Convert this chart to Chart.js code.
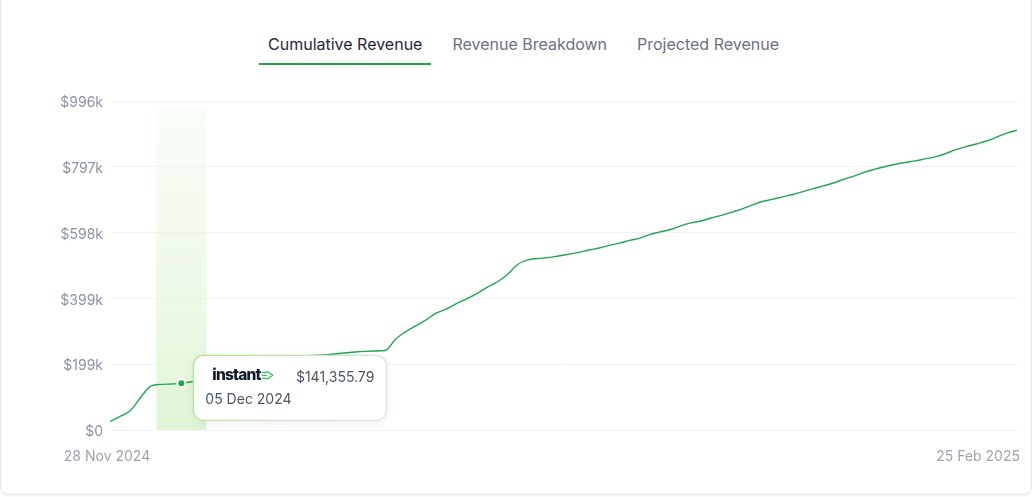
<!DOCTYPE html>
<html lang="en">
<head>
<meta charset="UTF-8" />
<title>Cumulative Revenue</title>
<style>
  html, body { margin: 0; padding: 0; background: #fff; font-family: Inter, "Noto Sans", sans-serif; }
  body { width: 1032px; height: 497px; overflow: hidden; position: relative; }
  .card { position: absolute; left: 0; top: -12px; width: 1030px; height: 505px; border: 1px solid #e4e6ea; border-radius: 8px; box-shadow: 0 1px 2px rgba(0,0,0,0.05); }
  .tabs { position: absolute; top: 30px; left: 259px; display: flex; gap: 12px; }
  .tab { padding: 0 9px 5px; font-size: 16px; line-height: 28px; color: #6b7280; border-bottom: 2px solid transparent; }
  .tab.active { color: #1f2937; border-bottom-color: #22a04b; }
  .chart-box { position: absolute; left: 0; top: 80px; width: 1032px; height: 400px; }
</style>
</head>
<body>
  <div class="card"></div>
  <div class="tabs">
    <div class="tab active">Cumulative Revenue</div>
    <div class="tab">Revenue Breakdown</div>
    <div class="tab">Projected Revenue</div>
  </div>
  <div class="chart-box"><canvas id="revChart"></canvas></div>

  <script src="https://cdn.jsdelivr.net/npm/chart.js"></script>
  <script>
    // daily labels, 28 Nov 2024 -> 25 Feb 2025
    const startDate = new Date(2024, 10, 28);
    const dayCount = 90;
    const months = ["Jan","Feb","Mar","Apr","May","Jun","Jul","Aug","Sep","Oct","Nov","Dec"];
    const dates = [];
    for (let i = 0; i < dayCount; i++) {
      const d = new Date(startDate.getFullYear(), startDate.getMonth(), startDate.getDate() + i);
      dates.push(String(d.getDate()).padStart(2, "0") + " " + months[d.getMonth()] + " " + d.getFullYear());
    }

    // cumulative revenue in $
    const revenue = [
      25400, 41200, 59100, 98300, 133000, 138100, 139400, 141355.79, 146200, 151300,
      157400, 164100, 172000, 180300, 188100, 196200, 204000, 212300, 219100, 224000,
      226100, 227300, 230200, 233400, 236100, 238200, 239300, 240600, 274100, 297200,
      315300, 333100, 354000, 366200, 383100, 397300, 413200, 432100, 448300, 471000,
      501200, 515100, 519300, 522200, 527100, 532300, 538100, 545200, 551300, 559100,
      566000, 574200, 581100, 592300, 600100, 607200, 618300, 627100, 633000, 642200,
      650100, 659300, 669000, 681200, 692100, 698300, 706100, 713200, 722000, 731100,
      739200, 748100, 759300, 769000, 780200, 789100, 797300, 804100, 810200, 815000,
      821300, 827100, 837200, 849000, 858100, 866300, 875200, 887100, 899300, 907400
    ];

    const yTickValues = [0, 199280, 398560, 597840, 797120, 996400];
    const activeIndex = 7;

    const lineColor = "#22a553";

    const fmtK = (v) => (v === 0 ? "$0" : "$" + Math.round(v / 1000) + "k");
    const fmtMoney = (v) => "$" + v.toLocaleString("en-US", { minimumFractionDigits: 2, maximumFractionDigits: 2 });

    // light green band behind the hovered day
    const bandPlugin = {
      id: "band",
      beforeDatasetsDraw(chart) {
        const { ctx, chartArea } = chart;
        const pt = chart.getDatasetMeta(0).data[activeIndex];
        const top = chartArea.top + 9;
        const g = ctx.createLinearGradient(0, top, 0, chartArea.bottom);
        g.addColorStop(0, "rgba(236,249,230,0.35)");
        g.addColorStop(1, "rgba(222,244,212,0.95)");
        ctx.save();
        ctx.fillStyle = g;
        ctx.fillRect(pt.x - 25, top, 50, chartArea.bottom - top);
        ctx.restore();
      }
    };

    // hover dot + tooltip card
    const hoverPlugin = {
      id: "hoverCard",
      afterDatasetsDraw(chart) {
        const { ctx } = chart;
        const pt = chart.getDatasetMeta(0).data[activeIndex];
        ctx.save();
        ctx.beginPath();
        ctx.arc(pt.x, pt.y, 4, 0, Math.PI * 2);
        ctx.fillStyle = lineColor;
        ctx.fill();
        ctx.lineWidth = 2;
        ctx.strokeStyle = "#fff";
        ctx.stroke();

        const bx = pt.x + 12, by = pt.y - 28, bw = 193, bh = 65;
        ctx.shadowColor = "rgba(0,0,0,0.08)";
        ctx.shadowBlur = 10;
        ctx.shadowOffsetY = 2;
        ctx.beginPath();
        ctx.roundRect(bx, by, bw, bh, 10);
        ctx.fillStyle = "#fff";
        ctx.fill();
        ctx.shadowColor = "transparent";
        const bg = ctx.createLinearGradient(bx, by, bx + bw * 0.6, by + bh * 1.6);
        bg.addColorStop(0, "#b2e386");
        bg.addColorStop(1, "#dde3e8");
        ctx.strokeStyle = bg;
        ctx.lineWidth = 1.3;
        ctx.stroke();

        // logo
        ctx.fillStyle = "#111827";
        ctx.font = "800 15.5px Inter";
        ctx.letterSpacing = "-0.8px";
        ctx.textBaseline = "middle";
        ctx.textAlign = "left";
        const lx = bx + 19, ly = by + 20;
        ctx.fillText("instant", lx, ly);
        const lw = ctx.measureText("instant").width;
        ctx.letterSpacing = "0px";
        const ix = lx + lw + 1;
        ctx.strokeStyle = "#2fbf5b";
        ctx.lineWidth = 1.3;
        ctx.beginPath();
        [-3, 0, 3].forEach((o) => { ctx.moveTo(ix, ly + o); ctx.lineTo(ix + 5, ly + o); });
        ctx.moveTo(ix + 5, ly - 4);
        ctx.lineTo(ix + 11, ly);
        ctx.lineTo(ix + 5, ly + 4);
        ctx.stroke();

        ctx.fillStyle = "#4b5563";
        ctx.font = "14px Inter";
        ctx.textAlign = "right";
        ctx.fillText(fmtMoney(revenue[activeIndex]), bx + bw - 12, by + 22);
        ctx.textAlign = "left";
        ctx.fillText(dates[activeIndex], bx + 12, by + 44.5);
        ctx.restore();
      }
    };

    // only first and last dates under the plot
    const edgeLabels = {
      id: "edgeLabels",
      afterDraw(chart) {
        const { ctx, chartArea } = chart;
        const xs = chart.scales.x;
        ctx.save();
        ctx.font = "14px Inter";
        ctx.fillStyle = "#9ca3af";
        ctx.textBaseline = "middle";
        ctx.textAlign = "center";
        ctx.fillText(dates[0], xs.getPixelForValue(0) - 3, chartArea.bottom + 26.5);
        ctx.textAlign = "right";
        ctx.fillText(dates[dates.length - 1], chartArea.right + 3, chartArea.bottom + 26.5);
        ctx.restore();
      }
    };

    new Chart(document.getElementById("revChart"), {
      type: "line",
      data: {
        labels: dates,
        datasets: [{
          data: revenue,
          borderColor: lineColor,
          borderWidth: 1.4,
          pointRadius: 0,
          pointHoverRadius: 0,
          cubicInterpolationMode: "monotone",
          fill: false
        }]
      },
      plugins: [bandPlugin, hoverPlugin, edgeLabels],
      options: {
        responsive: true,
        maintainAspectRatio: false,
        animation: false,
        events: [],
        layout: { padding: { top: 21, right: 15, bottom: 50, left: 0 } },
        plugins: { legend: { display: false }, tooltip: { enabled: false } },
        scales: {
          x: { display: false },
          y: {
            min: 0,
            max: 996400,
            afterFit(scale) { scale.width = 110; },
            afterBuildTicks(scale) { scale.ticks = yTickValues.map((v) => ({ value: v })); },
            border: { display: false },
            grid: { color: "#f1f2f4", drawTicks: false },
            ticks: {
              padding: 7,
              labelOffset: 2,
              color: "#8b92a3",
              font: { family: "Inter", size: 14 },
              callback: (v) => fmtK(v)
            }
          }
        }
      }
    });
  </script>
</body>
</html>
